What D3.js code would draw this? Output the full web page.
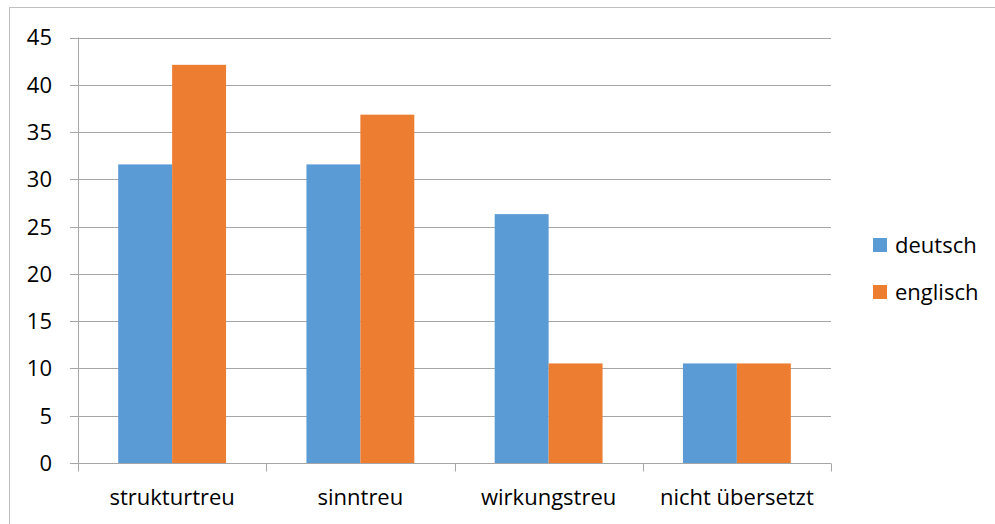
<!DOCTYPE html>
<html>
<head>
<meta charset="utf-8">
<script src="https://cdn.jsdelivr.net/npm/d3@7"></script>
<style>
  body { margin: 0; background: #fff; }
  text { font-family: "Open Sans", sans-serif; fill: #000; }
</style>
</head>
<body>
<div id="chart"></div>
<script>
// values
const categories = ["strukturtreu", "sinntreu", "wirkungstreu", "nicht übersetzt"];
const seriesNames = ["deutsch", "englisch"];
const deutsch = [31.58, 31.58, 26.32, 10.53];
const englisch = [42.11, 36.84, 10.53, 10.53];
const yTicks = [0, 5, 10, 15, 20, 25, 30, 35, 40, 45];

const colors = { deutsch: "#5b9bd5", englisch: "#ed7d31" };

const W = 995, H = 524;
const margin = { top: 37.5, left: 78, right: 164, bottom: 61 };
const fontSize = "22px";

const svg = d3.select("#chart").append("svg")
  .attr("width", W).attr("height", H);

// chart frame (only top and left edge visible in the crop)
svg.append("rect")
  .attr("x", 9.5).attr("y", 7.5)
  .attr("width", W + 20).attr("height", H + 20)
  .attr("fill", "none").attr("stroke", "#bfbfbf");

let x0 = d3.scaleBand()
  .domain(categories)
  .range([margin.left, W - margin.right])
  .padding(0);

let inset = x0.bandwidth() * 0.2135;
let x1 = d3.scaleBand()
  .domain(seriesNames)
  .range([inset, x0.bandwidth() - inset]);

let y = d3.scaleLinear()
  .domain([0, 45])
  .range([H - margin.bottom, margin.top]);

// gridlines + y ticks
let grid = svg.append("g");
grid.selectAll("line").data(yTicks).enter().append("line")
  .attr("x1", margin.left - 8)
  .attr("x2", W - margin.right)
  .attr("y1", d => Math.round(y(d)) + 0.5)
  .attr("y2", d => Math.round(y(d)) + 0.5)
  .attr("stroke", "#a6a6a6")
  .attr("stroke-width", 1);

svg.append("g").selectAll("text").data(yTicks).enter().append("text")
  .attr("x", 52)
  .attr("y", d => y(d))
  .attr("dy", "0.36em")
  .attr("text-anchor", "end")
  .style("font-size", fontSize)
  .text(d => d);

// bars
let rows = categories.map((c, i) => ({ cat: c, deutsch: deutsch[i], englisch: englisch[i] }));
let groups = svg.append("g").selectAll("g").data(rows).enter().append("g")
  .attr("transform", d => "translate(" + x0(d.cat) + ",0)");

groups.selectAll("rect")
  .data(d => seriesNames.map(s => ({ key: s, value: d[s] })))
  .enter().append("rect")
  .attr("x", d => x1(d.key))
  .attr("width", x1.bandwidth())
  .attr("y", d => y(d.value))
  .attr("height", d => y(0) - y(d.value))
  .attr("fill", d => colors[d.key]);

// axes lines
svg.append("line")
  .attr("x1", margin.left + 0.5).attr("x2", margin.left + 0.5)
  .attr("y1", y(45)).attr("y2", y(0))
  .attr("stroke", "#a6a6a6");

let xAxisY = Math.round(y(0)) + 0.5;
svg.append("line")
  .attr("x1", margin.left).attr("x2", W - margin.right)
  .attr("y1", xAxisY).attr("y2", xAxisY)
  .attr("stroke", "#a6a6a6");

let boundaries = categories.map(c => x0(c)).concat([x0(categories[categories.length - 1]) + x0.bandwidth()]);
svg.append("g").selectAll("line").data(boundaries).enter().append("line")
  .attr("x1", d => Math.round(d) + 0.5).attr("x2", d => Math.round(d) + 0.5)
  .attr("y1", xAxisY).attr("y2", xAxisY + 8)
  .attr("stroke", "#a6a6a6");

svg.append("g").selectAll("text").data(categories).enter().append("text")
  .attr("x", d => x0(d) + x0.bandwidth() / 2)
  .attr("y", 505)
  .attr("text-anchor", "middle")
  .style("font-size", fontSize)
  .text(d => d);

// legend
let legend = svg.append("g").attr("transform", "translate(873,238)");
legend.selectAll("rect").data(seriesNames).enter().append("rect")
  .attr("x", 0)
  .attr("y", (d, i) => i * 47)
  .attr("width", 14).attr("height", 14)
  .attr("fill", d => colors[d]);
legend.selectAll("text").data(seriesNames).enter().append("text")
  .attr("x", 22)
  .attr("y", (d, i) => i * 47 + 15)
  .style("font-size", fontSize)
  .text(d => d);
</script>
</body>
</html>
